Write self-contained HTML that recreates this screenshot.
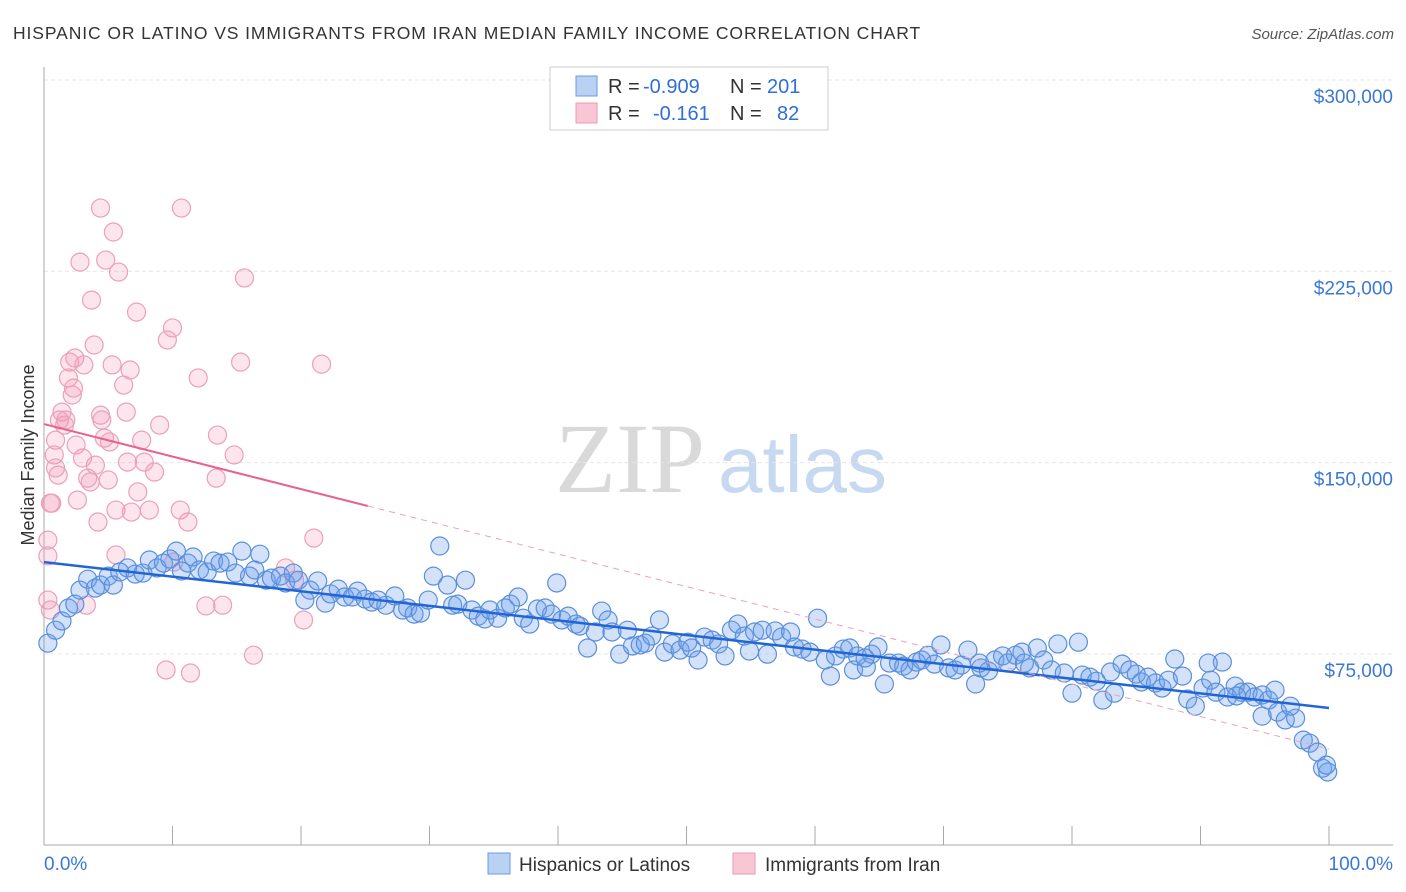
<!DOCTYPE html>
<html><head><meta charset="utf-8"><style>
body{margin:0;background:#fff;font-family:"Liberation Sans",sans-serif;}
#wrap{position:relative;width:1406px;height:892px;overflow:hidden;}
</style></head><body>
<div id="wrap">
<svg id="svg" width="1406" height="892" xmlns="http://www.w3.org/2000/svg">
<text x="13" y="39" font-size="17.5" letter-spacing="0.9" fill="#333">HISPANIC OR LATINO VS IMMIGRANTS FROM IRAN MEDIAN FAMILY INCOME CORRELATION CHART</text>
<text x="1394" y="39" font-size="15" fill="#555" font-style="italic" text-anchor="end">Source: ZipAtlas.com</text>
<text x="555" y="492" font-size="100" fill="#d9d9d9" font-family="Liberation Serif, serif">ZIP</text>
<text x="718" y="492" font-size="80" fill="#c6d9f0">atlas</text>
<text transform="translate(34,455) rotate(-90)" font-size="18" fill="#333" text-anchor="middle">Median Family Income</text>
<g id="grid"></g><g id="pts"></g><g id="lines"></g>
<rect x="550" y="67" width="278" height="63" fill="#fff" stroke="#ccc"/>
<rect x="576" y="76" width="21" height="20" fill="#b9d1f3" stroke="#6a9be0"/>
<rect x="576" y="103" width="21" height="20" fill="#f9c6d6" stroke="#eb9ab4"/>
<text y="93" font-size="20" fill="#333"><tspan x="608">R = </tspan><tspan x="643" fill="#2f6fd6">-0.909</tspan><tspan x="730">N = </tspan><tspan x="767" fill="#2f6fd6">201</tspan></text>
<text y="120" font-size="20" fill="#333"><tspan x="608">R = </tspan><tspan x="653" fill="#2f6fd6">-0.161</tspan><tspan x="730">N = </tspan><tspan x="777" fill="#2f6fd6">82</tspan></text>
<rect x="488" y="853" width="22" height="21" fill="#b9d1f3" stroke="#6a9be0"/>
<text x="519" y="871" font-size="19" fill="#333">Hispanics or Latinos</text>
<rect x="733" y="853" width="22" height="21" fill="#f9c6d6" stroke="#eb9ab4"/>
<text x="765" y="871" font-size="19" fill="#333">Immigrants from Iran</text>
</svg>
</div>
<script>
const yTicks=[75,150,225,300];
const yTickLabels=["$75,000","$150,000","$225,000","$300,000"];
const xTicks=[0,10,20,30,40,50,60,70,80,90,100];
const xEndLabels=["0.0%","100.0%"];
const blueX=[0.3,0.9,1.4,1.9,2.4,2.8,3.4,4.0,4.4,5.0,5.4,5.9,6.5,7.1,7.7,8.2,8.8,9.3,9.8,10.3,10.7,11.2,11.6,12.1,12.7,13.2,13.7,14.3,14.9,15.4,16.0,16.4,16.8,17.3,17.7,18.4,18.8,19.4,19.8,20.3,20.7,21.3,21.9,22.3,22.9,23.4,24.0,24.4,25.0,25.5,26.0,26.6,27.3,27.9,28.3,28.8,29.3,29.9,30.3,30.8,31.4,31.8,32.2,32.8,33.3,33.8,34.3,34.7,35.3,35.9,36.3,36.9,37.3,37.8,38.4,39.0,39.5,39.9,40.3,40.8,41.4,41.7,42.3,42.9,43.4,43.9,44.2,44.8,45.4,45.8,46.4,46.8,47.3,47.9,48.3,48.9,49.5,50.1,50.4,50.9,51.4,52.0,52.5,53.0,53.5,54.0,54.5,54.9,55.3,55.9,56.3,56.9,57.4,58.1,58.4,59.0,59.6,60.2,60.8,61.2,61.6,62.2,62.7,63.0,63.3,64.0,64.4,64.9,65.4,65.8,66.5,66.9,67.4,67.9,68.3,68.8,69.3,69.8,70.4,70.9,71.4,71.9,72.5,72.9,73.5,74.0,74.6,75.0,75.6,76.1,76.7,77.3,77.8,78.4,78.9,79.4,80.0,80.5,80.8,81.4,81.9,82.4,83.0,83.3,83.9,84.5,85.0,85.4,85.9,86.5,87.0,87.5,88.0,88.6,89.0,89.6,90.2,90.8,91.2,91.7,92.1,92.7,93.2,93.7,94.2,94.8,95.3,95.8,94.8,96.0,96.6,97.4,98.0,98.5,99.1,99.5,99.9,99.8,97.0,92.8,90.6,76.3,72.8,63.9];
const blueY=[79.2,84.3,87.9,93.0,94.5,100.0,104.3,100.8,102.0,105.5,102.0,107.1,108.7,106.3,106.7,111.8,108.7,110.6,112.2,115.3,107.5,110.6,113.0,107.9,107.1,111.4,110.6,111.0,106.7,115.3,105.5,107.9,114.1,103.9,104.7,105.5,102.8,106.7,103.9,96.1,100.0,103.6,94.9,98.5,100.4,97.3,97.3,99.6,96.5,95.3,96.1,94.1,97.7,92.2,93.0,90.6,91.0,96.1,105.5,117.3,102.0,94.1,94.5,103.9,92.2,89.8,88.7,92.2,89.0,93.0,94.5,97.3,89.0,86.7,92.6,93.0,90.6,102.8,88.3,89.8,86.7,85.9,77.3,83.6,91.8,88.3,83.6,74.9,84.3,78.1,78.5,79.2,82.0,88.3,75.7,78.9,76.5,79.6,77.3,72.6,81.6,80.4,78.9,74.2,84.3,86.7,82.0,76.1,83.6,84.3,74.9,84.0,81.6,83.6,77.7,76.9,75.7,89.0,72.6,66.3,74.2,76.9,77.3,68.7,74.2,69.8,74.9,77.7,63.2,71.4,71.4,70.2,68.7,71.8,72.6,74.5,71.0,78.5,69.5,68.7,70.6,76.5,63.2,69.5,68.3,72.6,74.2,71.4,74.5,75.7,69.5,77.3,72.6,68.7,78.9,67.5,59.6,79.6,66.7,65.9,64.3,56.9,67.9,59.6,71.0,68.7,67.1,64.0,65.9,63.6,61.6,64.7,73.0,66.3,57.3,54.5,61.6,64.7,60.0,71.8,58.1,62.4,60.0,60.0,58.1,58.9,56.9,60.8,50.6,52.2,49.1,49.8,41.2,40.0,36.5,30.2,28.7,31.4,54.5,58.5,71.4,71.4,71.4,73.4];
const pinkX=[0.3,0.3,0.5,0.6,0.8,0.9,1.1,0.9,1.2,1.4,1.6,1.7,1.9,2.0,2.2,2.3,2.4,2.5,2.6,2.8,3.0,3.1,3.3,3.4,3.6,3.7,3.9,4.0,4.2,4.4,4.4,4.5,4.7,4.8,5.0,5.1,5.3,5.4,5.6,5.6,5.8,6.2,6.4,6.5,6.7,6.8,7.2,7.3,7.6,7.8,8.2,8.6,9.0,9.5,9.6,10.0,10.1,10.6,10.7,11.2,11.4,12.0,12.6,13.4,13.5,13.9,14.8,15.3,15.6,16.3,18.8,19.5,20.2,21.0,21.6,0.3,0.5];
const pinkY=[119.6,113.4,134.1,134.1,153.0,158.8,145.1,147.9,166.7,169.8,164.7,166.7,183.2,189.4,176.5,179.2,191.0,156.9,135.3,228.6,151.8,188.3,94.1,143.9,142.4,213.7,196.1,149.0,126.7,249.8,168.6,166.7,159.6,229.4,143.2,158.1,188.3,240.4,113.8,131.4,224.7,180.4,169.8,150.2,186.3,130.6,209.0,138.5,158.8,150.2,131.4,146.3,164.7,68.7,198.1,202.8,111.0,131.4,249.8,126.7,67.5,183.2,93.8,143.9,160.8,94.1,153.0,189.4,222.4,74.5,108.7,103.9,88.3,120.4,188.6,96.1,92.2];
const blueTrend=[111.0,-0.572];
const pinkTrend=[165.1,-1.274];
const pinkSolidEnd=25.2;

const NS="http://www.w3.org/2000/svg";
const X0=44,X1=1329,YTOP=80,YBOT=845;
function sx(v){return X0+(X1-X0)*v/100;}
function sy(k){return YTOP+(300-k)*191.3/75;}
function mk(tag,attrs,parent){const e=document.createElementNS(NS,tag);for(const k in attrs)e.setAttribute(k,attrs[k]);parent.appendChild(e);return e;}
const grid=document.getElementById('grid');
yTicks.forEach((t,i)=>{
  const l=mk('line',{x1:X0,x2:1393,y1:sy(t),y2:sy(t),stroke:'#e6e6e6','stroke-dasharray':'4,3'},grid);
  
  
  const tx=mk('text',{x:1393,y:sy(t)+23,'font-size':19,fill:'#3a78d4','text-anchor':'end'},grid);
  tx.textContent=yTickLabels[i];
  
  
});
const ax=mk('line',{x1:X0,x2:X0,y1:67,y2:YBOT,stroke:'#aaa'},grid);


const bx=mk('line',{x1:X0,x2:1393,y1:YBOT,y2:YBOT,stroke:'#aaa'},grid);


xTicks.forEach(t=>{
  const l=mk('line',{x1:sx(t),x2:sx(t),y1:826,y2:YBOT,stroke:'#aaa'},grid);
  
  
});
const xl0=mk('text',{x:44,y:870,'font-size':19,fill:'#3a78d4'},grid);xl0.textContent=xEndLabels[0];


const xl1=mk('text',{x:1393,y:870,'font-size':19,fill:'#3a78d4','text-anchor':'end'},grid);xl1.textContent=xEndLabels[1];


const pts=document.getElementById('pts');
pinkX.forEach((x,i)=>{
  const c=mk('circle',{cx:sx(x),cy:sy(pinkY[i]),r:9,fill:'rgba(244,150,180,0.25)',stroke:'#eba0b8','stroke-width':1.2},pts);
  
  
});
blueX.forEach((x,i)=>{
  const c=mk('circle',{cx:sx(x),cy:sy(blueY[i]),r:9,fill:'rgba(110,160,235,0.3)',stroke:'#5a8fdc','stroke-width':1.2},pts);
  
  
});
const ln=document.getElementById('lines');
const bl=mk('line',{x1:sx(0),y1:sy(blueTrend[0]),x2:sx(100),y2:sy(blueTrend[0]+blueTrend[1]*100),stroke:'#2266d6','stroke-width':2.5},ln);


const pl=mk('line',{x1:sx(0),y1:sy(pinkTrend[0]),x2:sx(pinkSolidEnd),y2:sy(pinkTrend[0]+pinkTrend[1]*pinkSolidEnd),stroke:'#e8628c','stroke-width':2},ln);


const pd=mk('line',{x1:sx(pinkSolidEnd),y1:sy(pinkTrend[0]+pinkTrend[1]*pinkSolidEnd),x2:sx(100),y2:sy(pinkTrend[0]+pinkTrend[1]*100),stroke:'#eea0b8','stroke-width':1,'stroke-dasharray':'6,5'},ln);


</script>
</body></html>
